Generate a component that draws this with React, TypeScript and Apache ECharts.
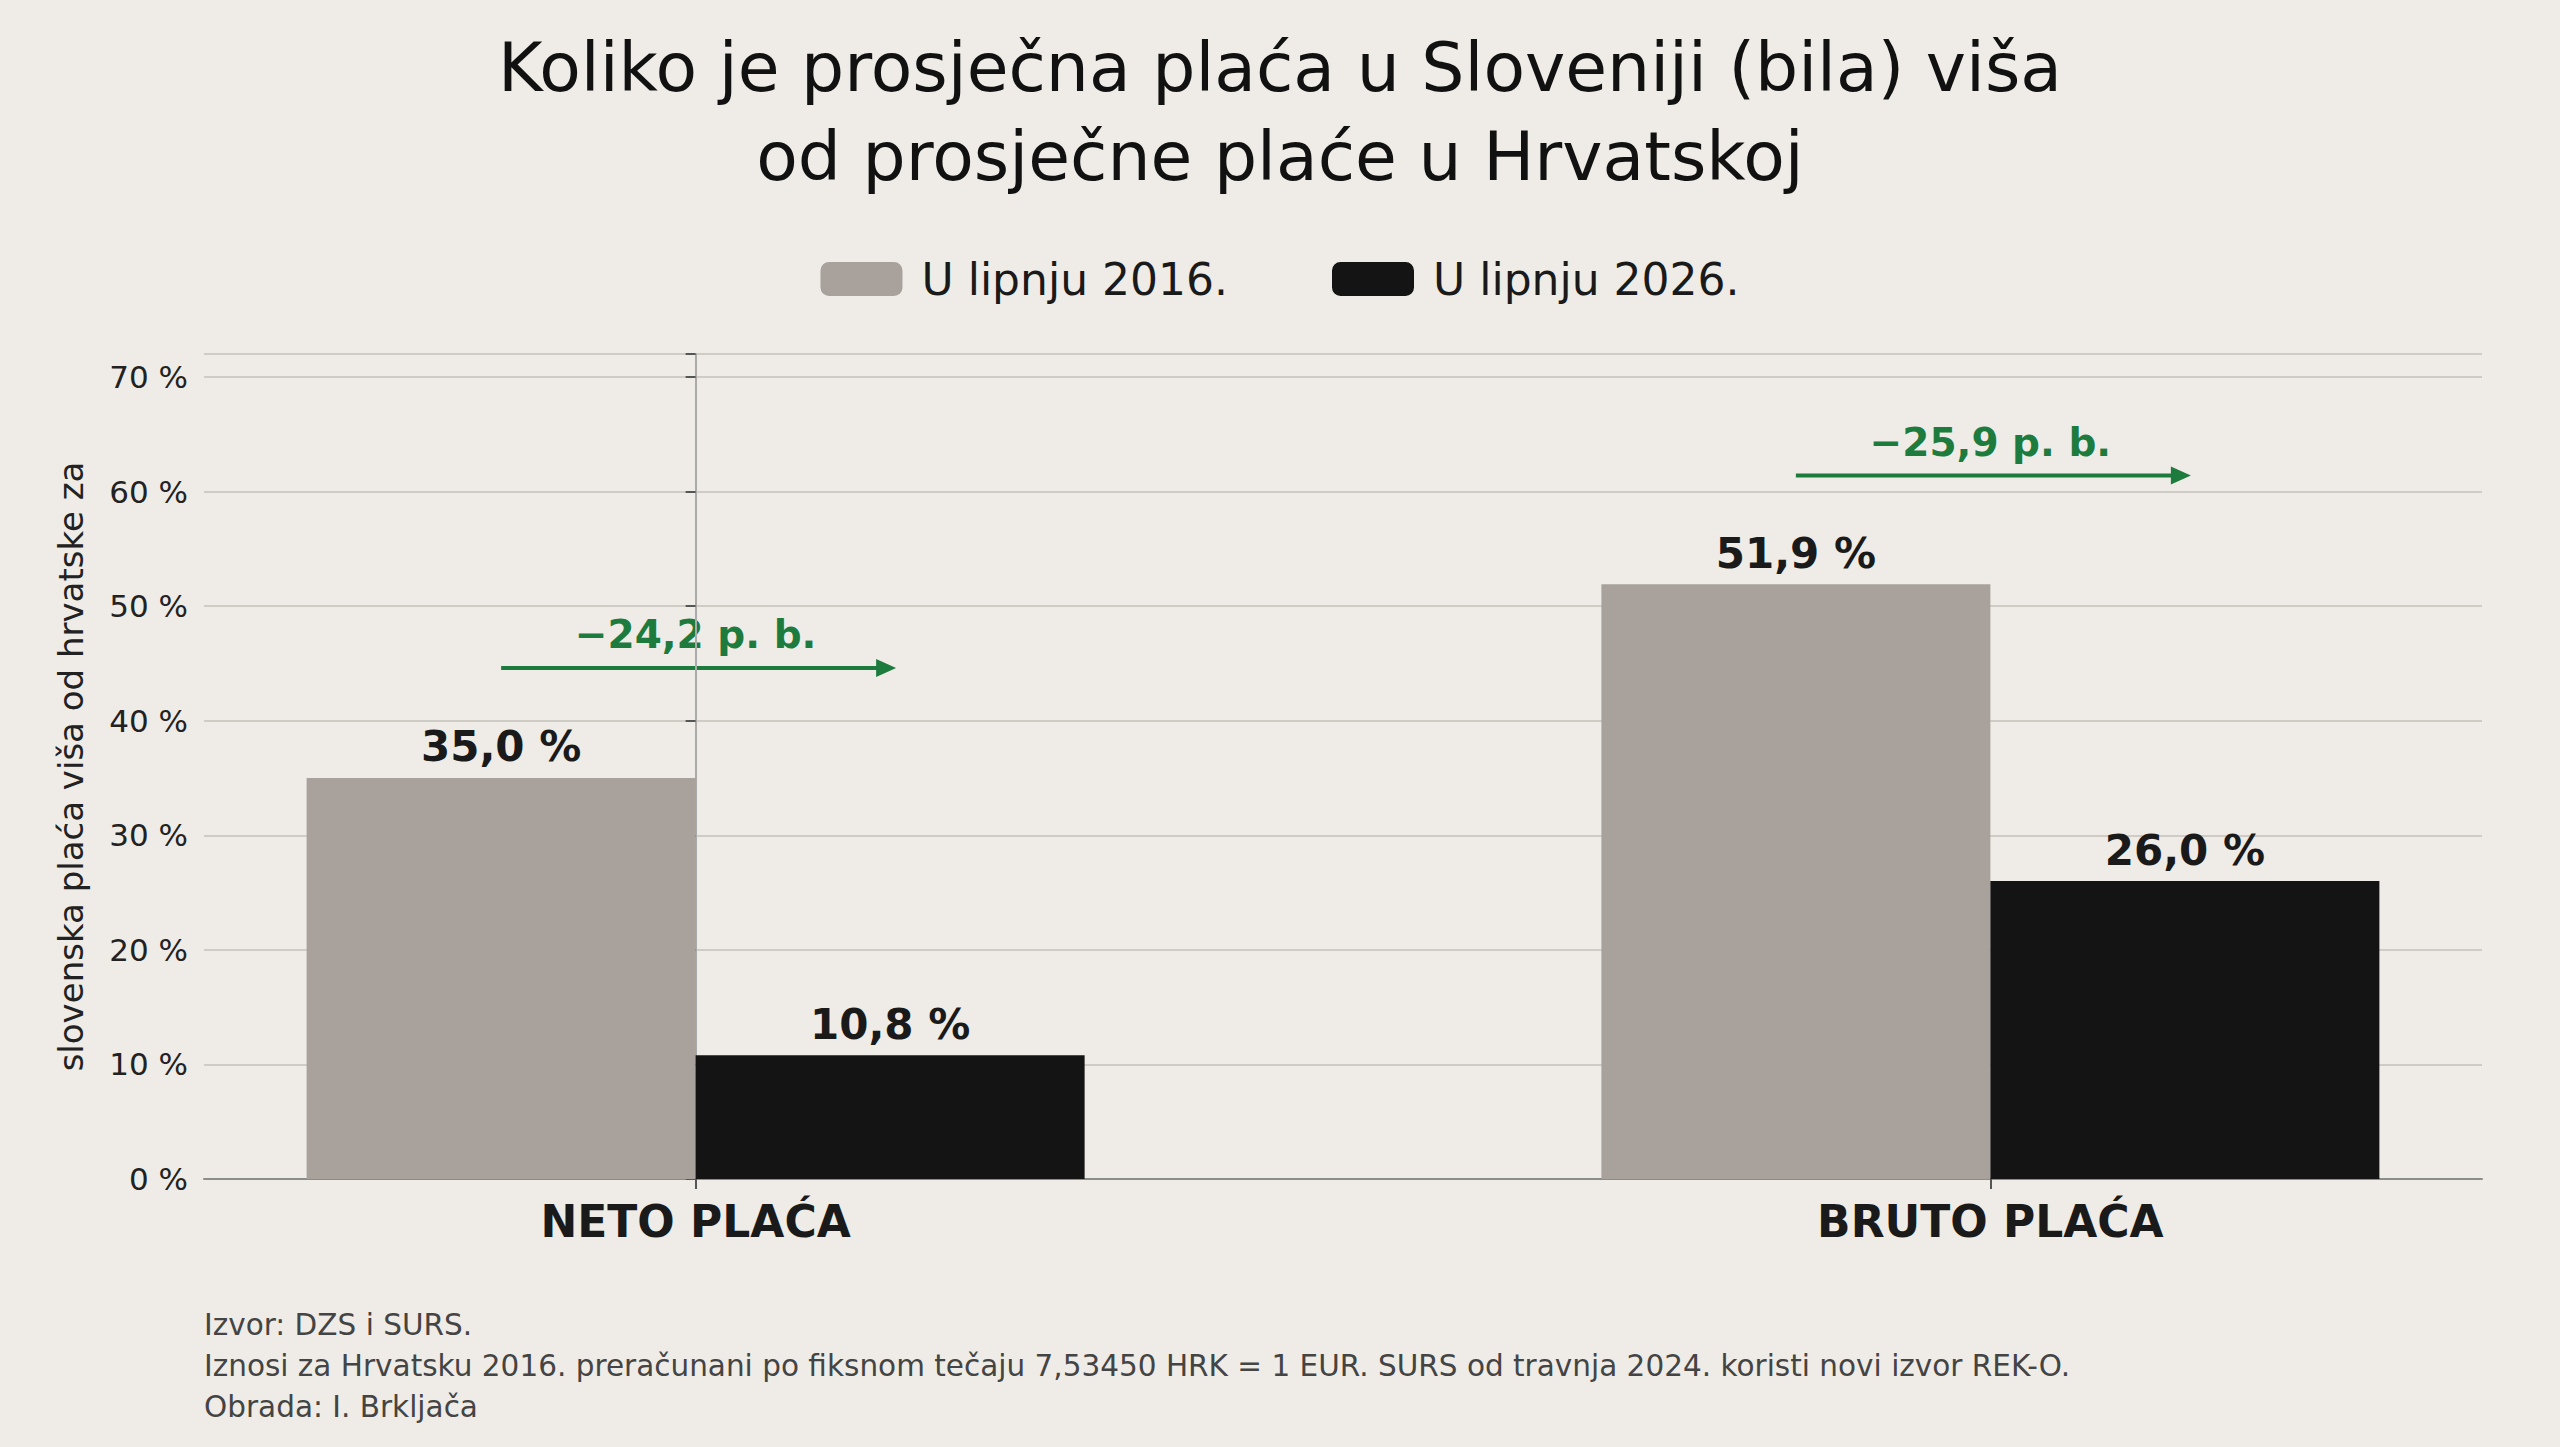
import React, { useEffect, useRef } from "react";
import * as echarts from "echarts";

const categories = ["NETO PLAĆA", "BRUTO PLAĆA"];
const series2016 = [35.0, 51.9];
const series2026 = [10.8, 26.0];
const diffLabels = ["−24,2 p. b.", "−25,9 p. b."];
const arrowLevels = [44.6, 61.4];
const footnotes = [
  "Izvor: DZS i SURS.",
  "Iznosi za Hrvatsku 2016. preračunani po fiksnom tečaju 7,53450 HRK = 1 EUR. SURS od travnja 2024. koristi novi izvor REK-O.",
  "Obrada: I. Brkljača",
];

const FONT = "DejaVu Sans";
const GREEN = "#1e7b3e";
const BAR_W = 389;
const fmt = (v: number) => v.toFixed(1).replace(".", ",") + " %";

export default function App() {
  const ref = useRef<HTMLDivElement>(null);
  useEffect(() => {
    document.body.style.margin = "0";
    const chart = echarts.init(ref.current!, null, { renderer: "svg" });
    const barLabel = {
      show: true, position: "top", distance: 10, fontFamily: FONT, fontSize: 42,
      fontWeight: "bold", color: "#1a1a1a", formatter: (p: any) => fmt(p.value[1]),
    };
    chart.setOption({
      animation: false,
      backgroundColor: "#efece7",
      textStyle: { fontFamily: FONT },
      title: {
        text: "Koliko je prosječna plaća u Sloveniji (bila) viša\nod prosječne plaće u Hrvatskoj",
        left: "center", top: 18,
        textStyle: { fontFamily: FONT, fontSize: 68, fontWeight: "normal", color: "#111", lineHeight: 89 },
      },
      legend: {
        top: 252, left: "center", itemWidth: 82, itemHeight: 34, itemGap: 104,
        textStyle: { fontFamily: FONT, fontSize: 44, color: "#1a1a1a", padding: [0, 0, 0, 14] },
        data: ["U lipnju 2016.", "U lipnju 2026."],
      },
      grid: { left: 204, right: 78, top: 354, bottom: 268 },
      xAxis: {
        type: "value", min: -0.3797, max: 1.3797,
        splitLine: { show: false },
        axisLine: { show: true, onZero: false, lineStyle: { color: "#8c8c8c", width: 2 } },
        axisTick: { show: true, customValues: [0, 1], length: 10, lineStyle: { color: "#555", width: 2 } },
        axisLabel: {
          customValues: [0, 1], fontFamily: FONT, fontSize: 44, fontWeight: "bold", color: "#1a1a1a", margin: 20,
          formatter: (v: number) => categories[Math.round(v)] ?? "",
        },
      },
      yAxis: {
        type: "value", min: 0, max: 72, interval: 10,
        name: "slovenska plaća viša od hrvatske za", nameLocation: "middle", nameGap: 116,
        nameTextStyle: { fontFamily: FONT, fontSize: 34, color: "#222" },
        axisLine: { show: true, lineStyle: { color: "#aaa", width: 2 } },
        axisTick: { show: true, length: 10, lineStyle: { color: "#555", width: 2 } },
        splitLine: { lineStyle: { color: "#cfccc6", width: 2 } },
        axisLabel: { fontFamily: FONT, fontSize: 31, color: "#222", margin: 16, formatter: (v: number) => (v > 70 ? "" : v + " %") },
      },
      series: [
        { name: "U lipnju 2016.", type: "bar", data: series2016.map((v, i) => [i, v]), barWidth: BAR_W, barGap: "0%",
          itemStyle: { color: "#a9a29c" }, label: barLabel },
        { name: "U lipnju 2026.", type: "bar", data: series2026.map((v, i) => [i, v]), barWidth: BAR_W,
          itemStyle: { color: "#141414" }, label: barLabel },
      ],
    });
    const graphics: any[] = [];
    categories.forEach((c, i) => {
      const p0 = chart.convertToPixel({ gridIndex: 0 }, [i, arrowLevels[i]]) as number[];
      const off = BAR_W / 2;
      const x0 = p0[0] - off, x1 = p0[0] + off, y = p0[1];
      graphics.push(
        { type: "line", shape: { x1: x0, y1: y, x2: x1 - 8, y2: y }, style: { stroke: GREEN, lineWidth: 4 } },
        { type: "polygon", shape: { points: [[x1 + 6, y], [x1 - 14, y - 9], [x1 - 14, y + 9]] }, style: { fill: GREEN } },
        { type: "text", x: p0[0], y: y - 33, style: { text: diffLabels[i], fill: GREEN, fontFamily: FONT, fontSize: 39, fontWeight: "bold", align: "center", verticalAlign: "middle" } },
      );
    });
    footnotes.forEach((t, i) => {
      graphics.push({ type: "text", left: 204, top: 1310 + i * 41, style: { text: t, fill: "#444", fontFamily: FONT, fontSize: 29.5 } });
    });
    chart.setOption({ graphic: graphics });
    return () => chart.dispose();
  }, []);
  return <div ref={ref} style={{ width: 2560, height: 1447 }} />;
}
